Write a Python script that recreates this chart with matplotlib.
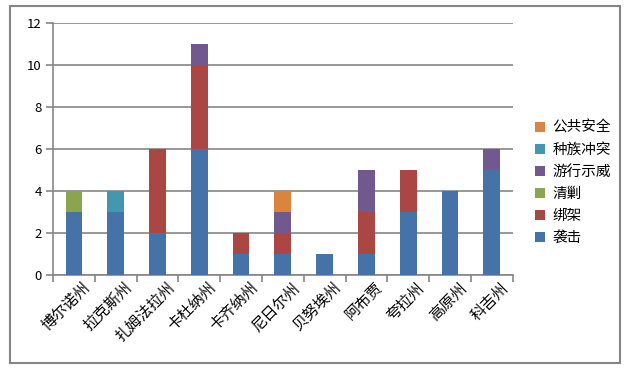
import numpy as np
import matplotlib
matplotlib.use('Agg')
import matplotlib.pyplot as plt
import matplotlib.transforms as mtrans
from matplotlib.patches import Rectangle, Patch

plt.rcParams['font.family'] = ['Noto Sans CJK SC', 'DejaVu Sans']

# Dados
regioes = ['博尔诺州', '拉克斯州', '扎姆法拉州', '卡杜纳州', '卡齐纳州', '尼日尔州',
           '贝努埃州', '阿布贾', '夸拉州', '高原州', '科吉州']
xiji = [3, 3, 2, 6, 1, 1, 1, 1, 3, 4, 5]        # 袭击
bangjia = [0, 0, 4, 4, 1, 1, 0, 2, 2, 0, 0]     # 绑架
qingjiao = [1, 0, 0, 0, 0, 0, 0, 0, 0, 0, 0]    # 清剿
youxing = [0, 0, 0, 1, 0, 1, 0, 2, 0, 0, 1]     # 游行示威
zhongzu = [0, 1, 0, 0, 0, 0, 0, 0, 0, 0, 0]     # 种族冲突
gonggong = [0, 0, 0, 0, 0, 1, 0, 0, 0, 0, 0]    # 公共安全

series = [('袭击', xiji, '#4572A7'),
          ('绑架', bangjia, '#AA4643'),
          ('清剿', qingjiao, '#89A54E'),
          ('游行示威', youxing, '#71588F'),
          ('种族冲突', zhongzu, '#4198AF'),
          ('公共安全', gonggong, '#DB843D')]

cinza = '#868686'

fig = plt.figure(figsize=(6.33, 3.70), dpi=100)
ax = fig.add_axes([53 / 633, 1 - 275 / 370, (512.7 - 53) / 633, (275 - 23.5) / 370])

x = np.arange(len(regioes))
base = np.zeros(len(regioes))
for nome, vals, cor in series:
    vals = np.array(vals, dtype=float)
    ax.bar(x, vals, width=0.4, bottom=base, color=cor, zorder=3)
    base += vals

ax.set_xlim(-0.5, len(regioes) - 0.5)
ax.set_ylim(0, 12)
ax.set_yticks(range(0, 13, 2))
ax.grid(axis='y', color=cinza, linewidth=1.2, zorder=0)

# ticks do eixo x nas fronteiras das categorias
ax.set_xticks(np.arange(-0.5, len(regioes)), minor=False)
ax.set_xticklabels([])
ax.set_xticks(x, minor=True)
ax.set_xticklabels(regioes, minor=True, rotation=45, ha='right', va='top',
                   rotation_mode='anchor', fontsize=11)
ax.tick_params(axis='x', which='minor', length=0, pad=3)
ax.tick_params(axis='x', which='major', length=5, color=cinza, width=1.2)
ax.tick_params(axis='y', length=5, color=cinza, width=1.2, labelsize=9.5, pad=3)

for lado in ['top', 'right']:
    ax.spines[lado].set_visible(False)
for lado in ['left', 'bottom']:
    ax.spines[lado].set_color(cinza)
    ax.spines[lado].set_linewidth(1.2)

# deslocar rótulos um pouco para a direita
desloc = mtrans.ScaledTranslation(8 / 100, 0, fig.dpi_scale_trans)
for lbl in ax.get_xticklabels(minor=True):
    lbl.set_transform(lbl.get_transform() + desloc)

handles = [Patch(facecolor=cor, label=nome) for nome, vals, cor in series][::-1]
fig.legend(handles=handles, loc='center left', bbox_to_anchor=(522 / 633, 1 - 183 / 370),
           frameon=False, fontsize=10.5, handlelength=0.7, handleheight=0.7,
           handletextpad=0.5, labelspacing=0.55)

# moldura externa
fig.patches.append(Rectangle((9.5 / 633, 1 - 363 / 370), (620 - 9.5) / 633, (363 - 6) / 370,
                             transform=fig.transFigure, fill=False, edgecolor=cinza,
                             linewidth=1.5))

fig.savefig('out.png', dpi=100)
